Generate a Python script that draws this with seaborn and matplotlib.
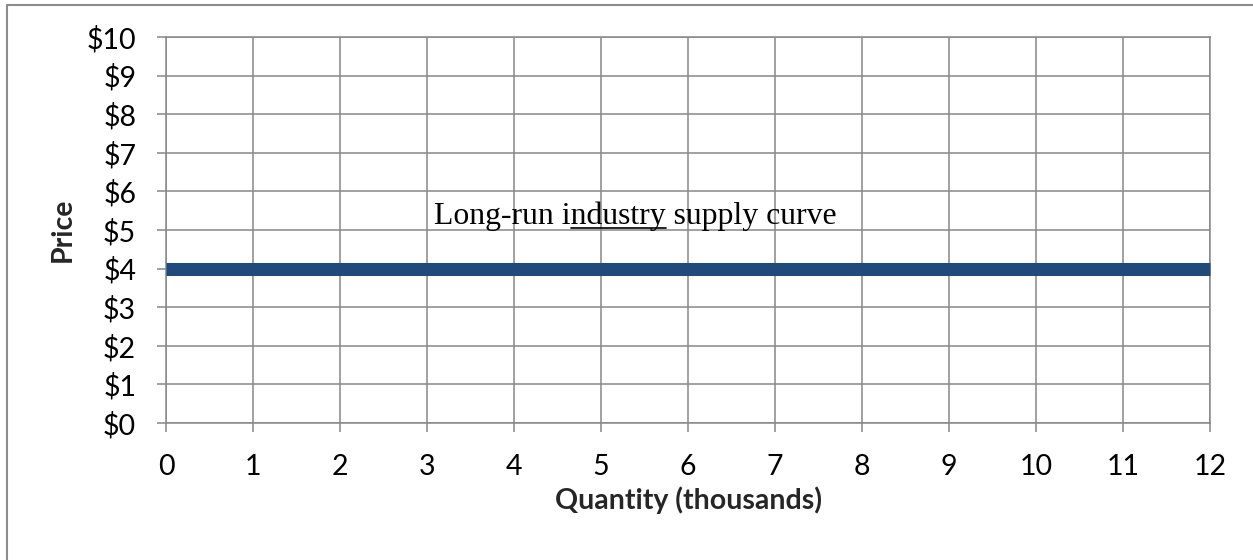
import matplotlib
matplotlib.use("Agg")
import matplotlib.pyplot as plt
from matplotlib.lines import Line2D
import pandas as pd
import seaborn as sns

# Data
quantity = [0, 12]
price = [4, 4]
x_ticks = list(range(0, 13))
y_ticks = list(range(0, 11))
y_tick_labels = [f"${v}" for v in y_ticks]
label_text = "Long-run industry supply curve"
label_pos = (3.08, 5.155)

sns.set_theme(style="white")
plt.rcParams['font.family'] = ['Lato', 'DejaVu Sans']

grid_col = '#888888'
line_col = '#21497C'
fs = 20.5

fig = plt.figure(figsize=(12.53, 5.60), dpi=100)
ax = fig.add_axes([0.1325, 0.2446, 0.9657 - 0.1325, 0.9339 - 0.2446])

df = pd.DataFrame({'Quantity': quantity, 'Price': price})
sns.lineplot(data=df, x='Quantity', y='Price', ax=ax, color=line_col,
             linewidth=9.4, solid_capstyle='butt', clip_on=False, zorder=3)

ax.set_xlim(0, 12)
ax.set_ylim(0, 10)
ax.set_xticks(x_ticks)
ax.set_yticks(y_ticks)
ax.set_yticklabels(y_tick_labels)
ax.grid(True, color=grid_col, linewidth=1.1)
for sp in ax.spines.values():
    sp.set_visible(True)
    sp.set_color(grid_col)
    sp.set_linewidth(1.1)
ax.tick_params(axis='both', which='both', length=6.5, width=1.1, color=grid_col,
               labelsize=fs, labelcolor='black', left=True, bottom=True)
ax.tick_params(axis='y', pad=15)
ax.tick_params(axis='x', pad=16)

ax.set_xlabel('Quantity (thousands)', fontsize=fs, fontweight='bold', labelpad=4.5)
ax.set_ylabel('Price', fontsize=fs, fontweight='bold', labelpad=8)

# Annotation with "ndustry" underlined
txt = ax.text(label_pos[0], label_pos[1], label_text, family='Liberation Serif',
              fontsize=22.9, ha='left', va='baseline', color='black', zorder=4)
fig.canvas.draw()
renderer = fig.canvas.get_renderer()
prop = txt.get_fontproperties()

def text_w(s):
    return renderer.get_text_width_height_descent(s, prop, ismath=False)[0]

x0, y0 = ax.transData.transform(label_pos)
u_start = x0 + text_w("Long-run i")
u_end = x0 + text_w("Long-run industry")
u_y = y0 - 4
inv = ax.transData.inverted()
(ux0, uy), (ux1, _) = inv.transform([(u_start, u_y), (u_end, u_y)])
ax.plot([ux0, ux1], [uy, uy], color='black', linewidth=1.2, clip_on=False, zorder=4)

# Outer chart border (left and top edges visible)
fig.add_artist(Line2D([6.5 / 1253, 6.5 / 1253], [0, 1 - 4.5 / 560],
                      transform=fig.transFigure, color='#8c8c8c', linewidth=1.5))
fig.add_artist(Line2D([6.5 / 1253, 1], [1 - 4.5 / 560, 1 - 4.5 / 560],
                      transform=fig.transFigure, color='#8c8c8c', linewidth=1.5))

fig.savefig('out.png', dpi=100)
